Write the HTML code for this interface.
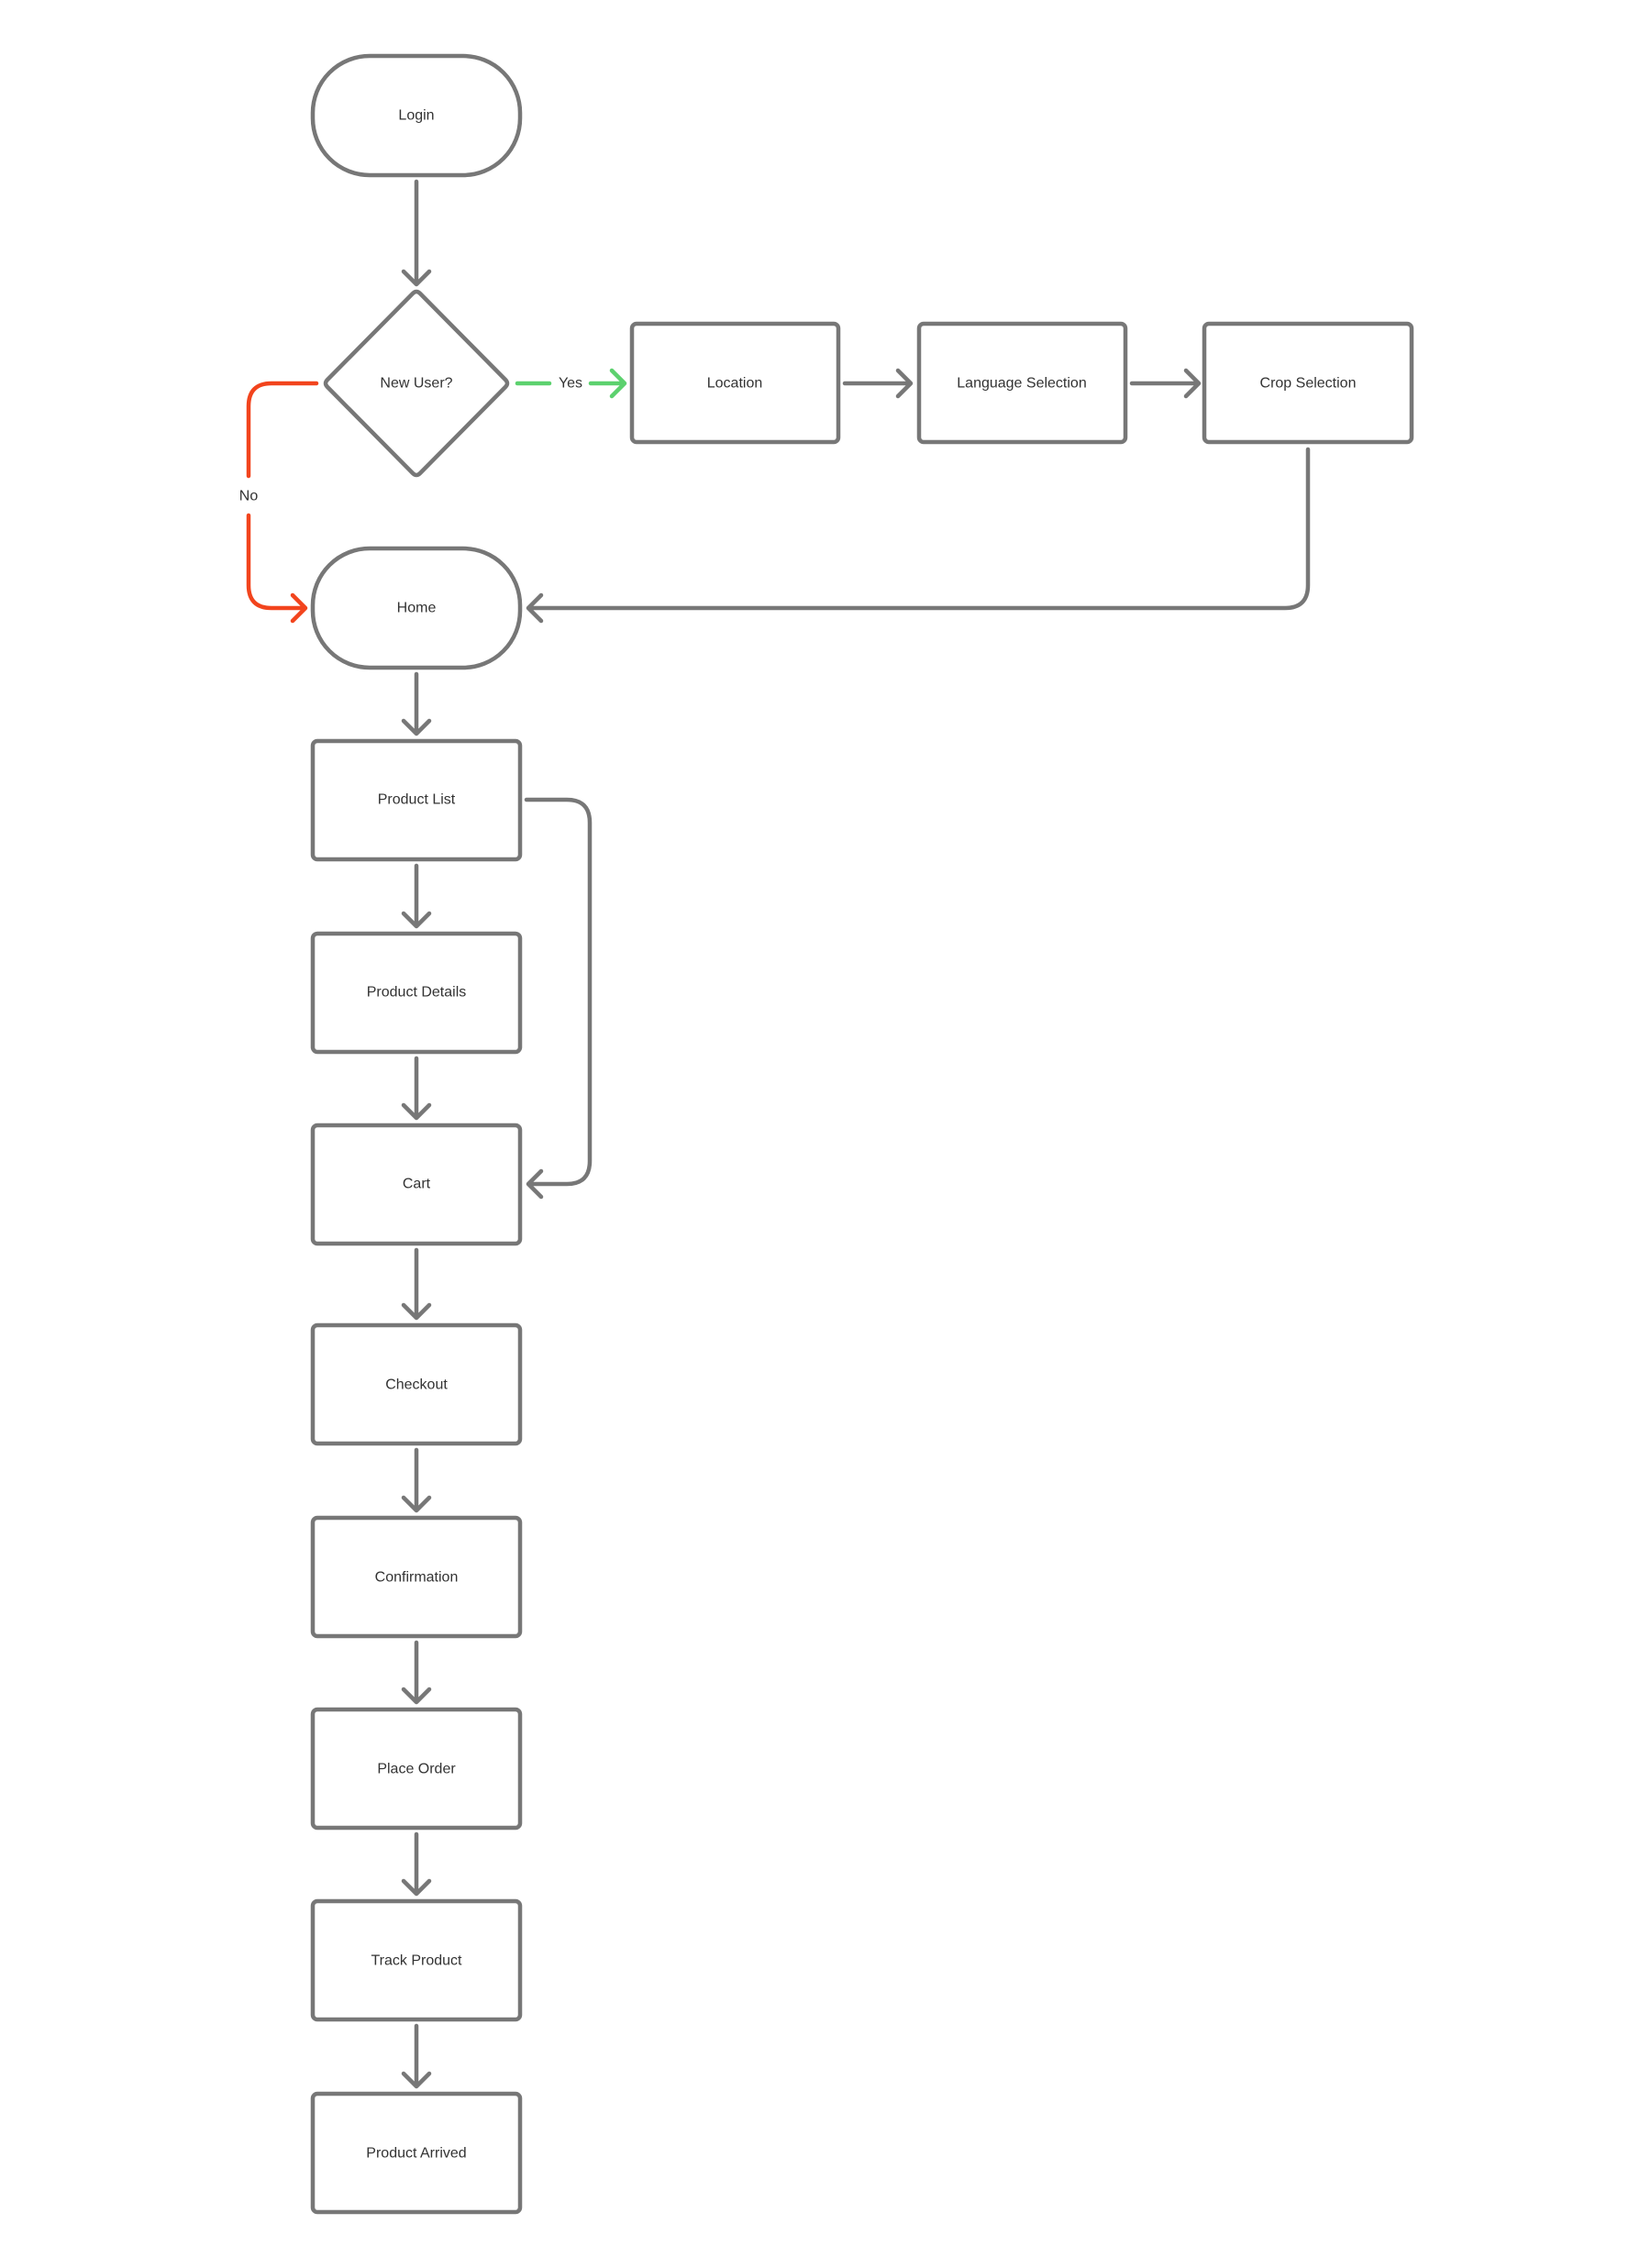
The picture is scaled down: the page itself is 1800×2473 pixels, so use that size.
<!DOCTYPE html>
<html><head><meta charset="utf-8"><style>
html,body{margin:0;padding:0;background:#fff;}
svg{display:block;}
text{font-family:"Liberation Sans",sans-serif;font-size:16px;fill:#333;text-anchor:middle;dominant-baseline:central;}
</style></head><body>
<svg width="1800" height="2473" viewBox="0 0 1800 2473" xmlns="http://www.w3.org/2000/svg">
<g fill="none" stroke="#777" stroke-width="4.5" stroke-linecap="round" stroke-linejoin="round">
  <!-- Login -->
  <rect x="341" y="61" width="226" height="130" rx="62"/>
  <!-- Diamond -->
  <path d="M450,320 Q454,316 458,320 L551,414 Q555,418 551,422 L458,516 Q454,520 450,516 L357,422 Q353,418 357,414 Z"/>
  <!-- Top row -->
  <rect x="689" y="353" width="225" height="129" rx="5"/>
  <rect x="1002" y="353" width="225" height="129" rx="5"/>
  <rect x="1313" y="353" width="226" height="129" rx="5"/>
  <!-- Home -->
  <rect x="341" y="598" width="226" height="130" rx="62"/>
  <!-- Column -->
  <rect x="341" y="808" width="226" height="129" rx="5"/>
  <rect x="341" y="1018" width="226" height="129" rx="5"/>
  <rect x="341" y="1227" width="226" height="129" rx="5"/>
  <rect x="341" y="1445" width="226" height="129" rx="5"/>
  <rect x="341" y="1655" width="226" height="129" rx="5"/>
  <rect x="341" y="1864" width="226" height="129" rx="5"/>
  <rect x="341" y="2073" width="226" height="129" rx="5"/>
  <rect x="341" y="2283" width="226" height="129" rx="5"/>

  <!-- vertical arrows -->
  <path d="M454,198 V310 M440,296 L454,310 L468,296"/>
  <path d="M454,735 V800 M440,786 L454,800 L468,786"/>
  <path d="M454,944 V1010 M440,996 L454,1010 L468,996"/>
  <path d="M454,1154 V1219 M440,1205 L454,1219 L468,1205"/>
  <path d="M454,1363 V1437 M440,1423 L454,1437 L468,1423"/>
  <path d="M454,1581 V1647 M440,1633 L454,1647 L468,1633"/>
  <path d="M454,1791 V1856 M440,1842 L454,1856 L468,1842"/>
  <path d="M454,2000 V2065 M440,2051 L454,2065 L468,2051"/>
  <path d="M454,2209 V2275 M440,2261 L454,2275 L468,2261"/>

  <!-- horizontal arrows top row -->
  <path d="M921,418 H993 M979,404 L993,418 L979,432"/>
  <path d="M1234,418 H1307 M1293,404 L1307,418 L1293,432"/>

  <!-- Crop -> Home -->
  <path d="M1426,490 V638 Q1426,663 1401,663 H576 M590,649 L576,663 L590,677"/>

  <!-- Product List -> Cart -->
  <path d="M574,872 H618 Q643,872 643,897 V1266 Q643,1291 618,1291 H576 M590,1277 L576,1291 L590,1305"/>
</g>
<!-- Yes green -->
<g fill="none" stroke="#5cd16e" stroke-width="4.5" stroke-linecap="round" stroke-linejoin="round">
  <path d="M564,418 H599"/>
  <path d="M644,418 H681 M667,404 L681,418 L667,432"/>
</g>
<!-- No red -->
<g fill="none" stroke="#f2441d" stroke-width="4.5" stroke-linecap="round" stroke-linejoin="round">
  <path d="M345,418 H296 Q271,418 271,443 V519"/>
  <path d="M271,562 V638 Q271,663 296,663 H333 M319,649 L333,663 L319,677"/>
</g>
<text x="454" y="126">Login</text>
<text x="454" y="418">New User?</text>
<text x="622" y="418">Yes</text>
<text x="271" y="541">No</text>
<text x="801" y="418">Location</text>
<text x="1114" y="418">Language Selection</text>
<text x="1426" y="418">Crop Selection</text>
<text x="454" y="663">Home</text>
<text x="454" y="872">Product List</text>
<text x="454" y="1082">Product Details</text>
<text x="454" y="1291">Cart</text>
<text x="454" y="1510">Checkout</text>
<text x="454" y="1720">Confirmation</text>
<text x="454" y="1929">Place Order</text>
<text x="454" y="2138">Track Product</text>
<text x="454" y="2348">Product Arrived</text>
</svg>
</body></html>
